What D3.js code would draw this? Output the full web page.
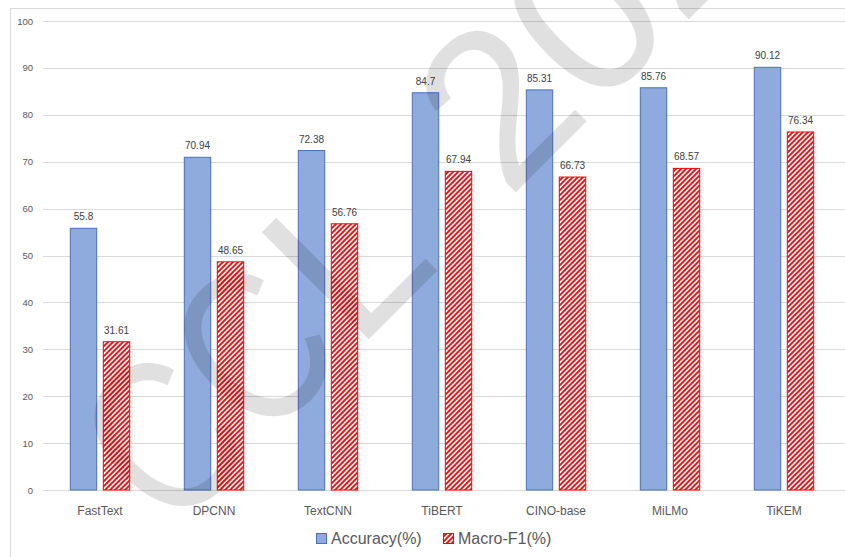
<!DOCTYPE html>
<html>
<head>
<meta charset="utf-8">
<script src="https://cdn.jsdelivr.net/npm/d3@7"></script>
<style>
  body { margin: 0; background: #fff; }
  svg { display: block; }
  text { font-family: "Liberation Sans", Arial, sans-serif; }
</style>
</head>
<body>
<div id="chart"></div>
<script>
var models = ["FastText", "DPCNN", "TextCNN", "TiBERT", "CINO-base", "MiLMo", "TiKEM"],
    accuracy = [55.8, 70.94, 72.38, 84.7, 85.31, 85.76, 90.12],
    macroF1 = [31.61, 48.65, 56.76, 67.94, 66.73, 68.57, 76.34],
    yTicks = [0, 10, 20, 30, 40, 50, 60, 70, 80, 90, 100],
    seriesNames = ["Accuracy(%)", "Macro-F1(%)"];

var width = 845,
    height = 557,
    plotLeft = 43,
    plotRight = 841,
    plotTop = 21,
    plotBottom = 490,
    barWidth = 26.4,
    barGap = 6.6;

var svg = d3.select("#chart").append("svg")
    .attr("width", width)
    .attr("height", height);

var defs = svg.append("defs");
var hatch = defs.append("pattern")
    .attr("id", "hatch")
    .attr("patternUnits", "userSpaceOnUse")
    .attr("width", 5)
    .attr("height", 5);
hatch.append("rect").attr("width", 5).attr("height", 5).attr("fill", "#fff");
hatch.append("path")
    .attr("d", "M-1,1 l2,-2 M0,5 l5,-5 M4,6 l2,-2")
    .attr("stroke", "#ff0000")
    .attr("stroke-width", 1.8);

// chart frame
svg.append("rect")
    .attr("x", 10.5)
    .attr("y", 8.5)
    .attr("width", 900)
    .attr("height", 600)
    .attr("fill", "#fff")
    .attr("stroke", "#d9d9d9");

var x = d3.scaleBand()
    .domain(models)
    .range([plotLeft, plotRight]);

var y = d3.scaleLinear()
    .domain([0, 100])
    .range([plotBottom, plotTop]);

// gridlines
svg.append("g")
    .selectAll("line")
    .data(yTicks.filter(function(d) { return d > 0; }))
    .enter().append("line")
    .attr("x1", plotLeft)
    .attr("x2", width)
    .attr("y1", function(d) { return Math.round(y(d)) + 0.5; })
    .attr("y2", function(d) { return Math.round(y(d)) + 0.5; })
    .attr("stroke", "#d9d9d9");

var yAxis = d3.axisLeft(y)
    .tickValues(yTicks)
    .tickSize(0)
    .tickPadding(10);

svg.append("g")
    .attr("transform", "translate(" + plotLeft + ",0)")
    .call(yAxis)
    .call(function(g) { g.select(".domain").remove(); })
    .selectAll("text")
    .attr("font-size", 9.5)
    .attr("fill", "#595959")
    .style("font-family", "Liberation Sans, Arial, sans-serif");

var xAxis = d3.axisBottom(x)
    .tickSize(0)
    .tickPadding(16);

var gx = svg.append("g")
    .attr("transform", "translate(0," + plotBottom + ")")
    .call(xAxis);
gx.select(".domain")
    .attr("d", "M" + plotLeft + ",0.5H" + width)
    .attr("stroke", "#d9d9d9");
gx.selectAll("text")
    .attr("font-size", 12)
    .attr("fill", "#595959")
    .style("font-family", "Liberation Sans, Arial, sans-serif");

function center(i) {
  return x(models[i]) + x.bandwidth() / 2;
}

var groups = svg.append("g").selectAll("g")
    .data(models)
    .enter().append("g");

// accuracy bars
groups.append("rect")
    .attr("x", function(d, i) { return center(i) - barGap / 2 - barWidth; })
    .attr("y", function(d, i) { return y(accuracy[i]); })
    .attr("width", barWidth)
    .attr("height", function(d, i) { return plotBottom - y(accuracy[i]); })
    .attr("fill", "#8faadc")
    .attr("stroke", "#4472c4")
    .attr("stroke-width", 1);

// macro-f1 bars
groups.append("rect")
    .attr("x", function(d, i) { return center(i) + barGap / 2; })
    .attr("y", function(d, i) { return y(macroF1[i]); })
    .attr("width", barWidth)
    .attr("height", function(d, i) { return plotBottom - y(macroF1[i]); })
    .attr("fill", "url(#hatch)")
    .attr("stroke", "#ff0000")
    .attr("stroke-width", 1);

groups.append("text")
    .attr("x", function(d, i) { return center(i) - barGap / 2 - barWidth / 2; })
    .attr("y", function(d, i) { return y(accuracy[i]) - 8; })
    .attr("text-anchor", "middle")
    .attr("font-size", 10)
    .attr("fill", "#404040")
    .text(function(d, i) { return accuracy[i]; });

groups.append("text")
    .attr("x", function(d, i) { return center(i) + barGap / 2 + barWidth / 2; })
    .attr("y", function(d, i) { return y(macroF1[i]) - 8; })
    .attr("text-anchor", "middle")
    .attr("font-size", 10)
    .attr("fill", "#404040")
    .text(function(d, i) { return macroF1[i]; });

// legend
var legend = svg.append("g");
var legendX = [316, 443];
legend.selectAll("rect")
    .data(seriesNames)
    .enter().append("rect")
    .attr("x", function(d, i) { return legendX[i] + 0.5; })
    .attr("y", 533.5)
    .attr("width", 10)
    .attr("height", 10)
    .attr("fill", function(d, i) { return i === 0 ? "#8faadc" : "url(#hatch)"; })
    .attr("stroke", function(d, i) { return i === 0 ? "#4472c4" : "#ff0000"; });
legend.selectAll("text")
    .data(seriesNames)
    .enter().append("text")
    .attr("x", function(d, i) { return legendX[i] + 15; })
    .attr("y", 544)
    .attr("font-size", 16)
    .attr("fill", "#595959")
    .text(function(d) { return d; });

// watermark, rotated along the diagonal, drawn over the bars
var wm = svg.append("g")
    .attr("transform", "translate(356,352) rotate(-45)")
    .attr("pointer-events", "none")
    .attr("fill", "#000")
    .attr("fill-opacity", 0.12)
    .attr("font-size", 220);
wm.append("text")
    .attr("transform", "scale(0.8,1)")
    .attr("x", -8)
    .attr("text-anchor", "end")
    .text("CC");
wm.append("text")
    .attr("x", 0)
    .text("L");
wm.append("text")
    .attr("x", 215)
    .text("2023");
</script>
</body>
</html>
